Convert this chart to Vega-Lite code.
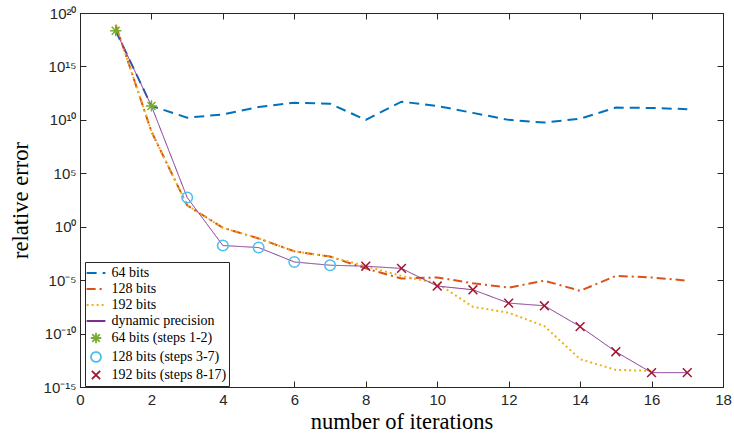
{
  "$schema": "https://vega.github.io/schema/vega-lite/v6.json",
  "width": 643,
  "height": 374,
  "autosize": "none",
  "padding": {"left": 80, "top": 13, "right": 11, "bottom": 48},
  "background": "white",
  "config": {
    "view": {"stroke": "#262626", "strokeWidth": 1},
    "axis": {
      "grid": false,
      "domainColor": "#262626",
      "tickColor": "#262626",
      "tickSize": -6,
      "labelFlush": false,
      "labelFont": "Liberation Sans",
      "labelFontSize": 15,
      "labelColor": "#262626",
      "titleFont": "Liberation Serif",
      "titleFontSize": 22.5,
      "titleFontWeight": "normal",
      "titleColor": "#000000"
    }
  },
  "datasets": {
    "bits": [
      {"x": 1, "v": 2.2e18, "s": "64 bits"},
      {"x": 2, "v": 2.0e11, "s": "64 bits"},
      {"x": 3, "v": 1.6e10, "s": "64 bits"},
      {"x": 4, "v": 3.2e10, "s": "64 bits"},
      {"x": 5, "v": 1.6e11, "s": "64 bits"},
      {"x": 6, "v": 4.0e11, "s": "64 bits"},
      {"x": 7, "v": 3.2e11, "s": "64 bits"},
      {"x": 8, "v": 1.0e10, "s": "64 bits"},
      {"x": 9, "v": 5.0e11, "s": "64 bits"},
      {"x": 10, "v": 2.0e11, "s": "64 bits"},
      {"x": 11, "v": 4.5e10, "s": "64 bits"},
      {"x": 12, "v": 1.0e10, "s": "64 bits"},
      {"x": 13, "v": 5.6e9, "s": "64 bits"},
      {"x": 14, "v": 1.3e10, "s": "64 bits"},
      {"x": 15, "v": 1.4e11, "s": "64 bits"},
      {"x": 16, "v": 1.3e11, "s": "64 bits"},
      {"x": 17, "v": 1.0e11, "s": "64 bits"},
      {"x": 1, "v": 8e18, "s": "128 bits"},
      {"x": 2, "v": 8e8, "s": "128 bits"},
      {"x": 3, "v": 100, "s": "128 bits"},
      {"x": 4, "v": 0.8, "s": "128 bits"},
      {"x": 5, "v": 0.08, "s": "128 bits"},
      {"x": 6, "v": 5e-3, "s": "128 bits"},
      {"x": 7, "v": 1.6e-3, "s": "128 bits"},
      {"x": 8, "v": 1.26e-4, "s": "128 bits"},
      {"x": 9, "v": 1.4e-5, "s": "128 bits"},
      {"x": 10, "v": 1.8e-5, "s": "128 bits"},
      {"x": 11, "v": 5e-6, "s": "128 bits"},
      {"x": 12, "v": 2e-6, "s": "128 bits"},
      {"x": 13, "v": 8.9e-6, "s": "128 bits"},
      {"x": 14, "v": 1e-6, "s": "128 bits"},
      {"x": 15, "v": 2.5e-5, "s": "128 bits"},
      {"x": 16, "v": 1.8e-5, "s": "128 bits"},
      {"x": 17, "v": 8.9e-6, "s": "128 bits"},
      {"x": 1, "v": 8e18, "s": "192 bits"},
      {"x": 2, "v": 8e8, "s": "192 bits"},
      {"x": 3, "v": 100, "s": "192 bits"},
      {"x": 4, "v": 0.8, "s": "192 bits"},
      {"x": 5, "v": 0.08, "s": "192 bits"},
      {"x": 6, "v": 5e-3, "s": "192 bits"},
      {"x": 7, "v": 1.6e-3, "s": "192 bits"},
      {"x": 8, "v": 2e-4, "s": "192 bits"},
      {"x": 9, "v": 2.5e-5, "s": "192 bits"},
      {"x": 10, "v": 5e-6, "s": "192 bits"},
      {"x": 11, "v": 3.2e-8, "s": "192 bits"},
      {"x": 12, "v": 8.9e-9, "s": "192 bits"},
      {"x": 13, "v": 5e-10, "s": "192 bits"},
      {"x": 14, "v": 4e-13, "s": "192 bits"},
      {"x": 15, "v": 4e-14, "s": "192 bits"},
      {"x": 16, "v": 3.2e-14, "s": "192 bits"}
    ],
    "dyn": [
      {"x": 1, "v": 2.2e18, "s": "dynamic precision"},
      {"x": 2, "v": 2.0e11, "s": "dynamic precision"},
      {"x": 3, "v": 540, "s": "dynamic precision"},
      {"x": 4, "v": 0.0174, "s": "dynamic precision"},
      {"x": 5, "v": 0.0112, "s": "dynamic precision"},
      {"x": 6, "v": 5e-4, "s": "dynamic precision"},
      {"x": 7, "v": 2.5e-4, "s": "dynamic precision"},
      {"x": 8, "v": 2e-4, "s": "dynamic precision"},
      {"x": 9, "v": 1.26e-4, "s": "dynamic precision"},
      {"x": 10, "v": 2.8e-6, "s": "dynamic precision"},
      {"x": 11, "v": 1.26e-6, "s": "dynamic precision"},
      {"x": 12, "v": 7.1e-8, "s": "dynamic precision"},
      {"x": 13, "v": 4e-8, "s": "dynamic precision"},
      {"x": 14, "v": 4.5e-10, "s": "dynamic precision"},
      {"x": 15, "v": 2e-12, "s": "dynamic precision"},
      {"x": 16, "v": 2.2e-14, "s": "dynamic precision"},
      {"x": 17, "v": 2.2e-14, "s": "dynamic precision"}
    ],
    "marks": [
      {"x": 1, "v": 2.2e18, "s": "64 bits (steps 1-2)"},
      {"x": 2, "v": 2.0e11, "s": "64 bits (steps 1-2)"},
      {"x": 3, "v": 540, "s": "128 bits (steps 3-7)"},
      {"x": 4, "v": 0.0174, "s": "128 bits (steps 3-7)"},
      {"x": 5, "v": 0.0112, "s": "128 bits (steps 3-7)"},
      {"x": 6, "v": 5e-4, "s": "128 bits (steps 3-7)"},
      {"x": 7, "v": 2.5e-4, "s": "128 bits (steps 3-7)"},
      {"x": 8, "v": 2e-4, "s": "192 bits (steps 8-17)"},
      {"x": 9, "v": 1.26e-4, "s": "192 bits (steps 8-17)"},
      {"x": 10, "v": 2.8e-6, "s": "192 bits (steps 8-17)"},
      {"x": 11, "v": 1.26e-6, "s": "192 bits (steps 8-17)"},
      {"x": 12, "v": 7.1e-8, "s": "192 bits (steps 8-17)"},
      {"x": 13, "v": 4e-8, "s": "192 bits (steps 8-17)"},
      {"x": 14, "v": 4.5e-10, "s": "192 bits (steps 8-17)"},
      {"x": 15, "v": 2e-12, "s": "192 bits (steps 8-17)"},
      {"x": 16, "v": 2.2e-14, "s": "192 bits (steps 8-17)"},
      {"x": 17, "v": 2.2e-14, "s": "192 bits (steps 8-17)"}
    ]
  },
  "resolve": {"axis": {"x": "independent", "y": "independent"}},
  "layer": [
    {
      "data": {"name": "bits"},
      "mark": {"type": "line", "strokeWidth": 2},
      "encoding": {
        "x": {"field": "x", "type": "quantitative", "scale": {"domain": [0, 18], "nice": false},
          "axis": {"values": [0, 2, 4, 6, 8, 10, 12, 14, 16, 18], "title": "number of iterations", "labelPadding": 11, "titleX": 321.5, "titleY": 41, "titleBaseline": "alphabetic"}},
        "y": {"field": "v", "type": "quantitative", "scale": {"type": "log", "domain": [1e-15, 1e20], "nice": false},
          "axis": {"values": [1e-15, 1e-10, 1e-5, 1, 1e5, 1e10, 1e15, 1e20], "title": "relative error", "labelPadding": 10, "titleX": -53, "titleY": 187, "titleBaseline": "alphabetic", "titleAlign": "center", "titleAngle": 270,
            "labelExpr": "datum.value > 1e19 ? '10²⁰' : datum.value > 1e14 ? '10¹⁵' : datum.value > 1e9 ? '10¹⁰' : datum.value > 1e4 ? '10⁵' : datum.value > 0.1 ? '10⁰' : datum.value > 1e-6 ? '10⁻⁵' : datum.value > 1e-11 ? '10⁻¹⁰' : '10⁻¹⁵'"}},
        "color": {"field": "s", "type": "nominal",
          "scale": {"domain": ["64 bits", "128 bits", "192 bits", "dynamic precision", "64 bits (steps 1-2)", "128 bits (steps 3-7)", "192 bits (steps 8-17)"],
            "range": ["#0072BD", "#D95319", "#EDB120", "#7E2F8E", "#77AC30", "#4DBEEE", "#A2142F"]},
          "legend": {"title": null, "orient": "none", "legendX": 5, "legendY": 249, "padding": 2.5, "rowPadding": 0, "symbolSize": 225, "symbolStrokeWidth": 1.8, "labelFont": "Liberation Serif", "labelFontSize": 14, "labelColor": "#000000", "labelOffset": 7, "strokeColor": "#262626", "fillColor": "white", "cornerRadius": 0}},
        "strokeDash": {"field": "s", "type": "nominal",
          "scale": {"domain": ["64 bits", "128 bits", "192 bits", "dynamic precision", "64 bits (steps 1-2)", "128 bits (steps 3-7)", "192 bits (steps 8-17)"],
            "range": [[10, 6], [9, 4, 2, 4], [2, 3], [1, 0], [1, 0], [1, 0], [1, 0]]},
          "legend": {"title": null, "orient": "none", "legendX": 5, "legendY": 249, "padding": 2.5, "rowPadding": 0, "symbolSize": 225, "symbolStrokeWidth": 1.8, "labelFont": "Liberation Serif", "labelFontSize": 14, "labelColor": "#000000", "labelOffset": 7, "strokeColor": "#262626", "fillColor": "white", "cornerRadius": 0}}
      }
    },
    {
      "data": {"name": "dyn"},
      "mark": {"type": "line", "strokeWidth": 1},
      "encoding": {
        "x": {"field": "x", "type": "quantitative", "axis": null},
        "y": {"field": "v", "type": "quantitative", "axis": null},
        "color": {"field": "s", "type": "nominal"},
        "strokeDash": {"field": "s", "type": "nominal"}
      }
    },
    {
      "data": {"name": "marks"},
      "mark": {"type": "point", "filled": false, "size": 256, "strokeWidth": 1.5, "opacity": 1},
      "encoding": {
        "x": {"field": "x", "type": "quantitative", "axis": {"orient": "top", "values": [0, 2, 4, 6, 8, 10, 12, 14, 16, 18], "labels": false, "title": null, "domain": false}},
        "y": {"field": "v", "type": "quantitative", "axis": {"orient": "right", "values": [1e-15, 1e-10, 1e-5, 1, 1e5, 1e10, 1e15, 1e20], "labels": false, "title": null, "domain": false}},
        "color": {"field": "s", "type": "nominal"},
        "shape": {"field": "s", "type": "nominal",
          "scale": {"domain": ["64 bits", "128 bits", "192 bits", "dynamic precision", "64 bits (steps 1-2)", "128 bits (steps 3-7)", "192 bits (steps 8-17)"],
            "range": ["M-1.25,0L1.25,0", "M-1.25,0L1.25,0", "M-1.25,0L1.25,0", "M-1.25,0L1.25,0",
              "M-0.7,0L0.7,0M0,-0.7L0,0.7M-0.5,-0.5L0.5,0.5M-0.5,0.5L0.5,-0.5",
              "M0.66,0A0.66,0.66,0,1,1,-0.66,0A0.66,0.66,0,1,1,0.66,0Z",
              "M-0.55,-0.55L0.55,0.55M-0.55,0.55L0.55,-0.55"]},
          "legend": {"title": null, "orient": "none", "legendX": 5, "legendY": 249, "padding": 2.5, "rowPadding": 0, "symbolSize": 225, "symbolStrokeWidth": 1.8, "labelFont": "Liberation Serif", "labelFontSize": 14, "labelColor": "#000000", "labelOffset": 7, "strokeColor": "#262626", "fillColor": "white", "cornerRadius": 0}}
      }
    }
  ]
}
